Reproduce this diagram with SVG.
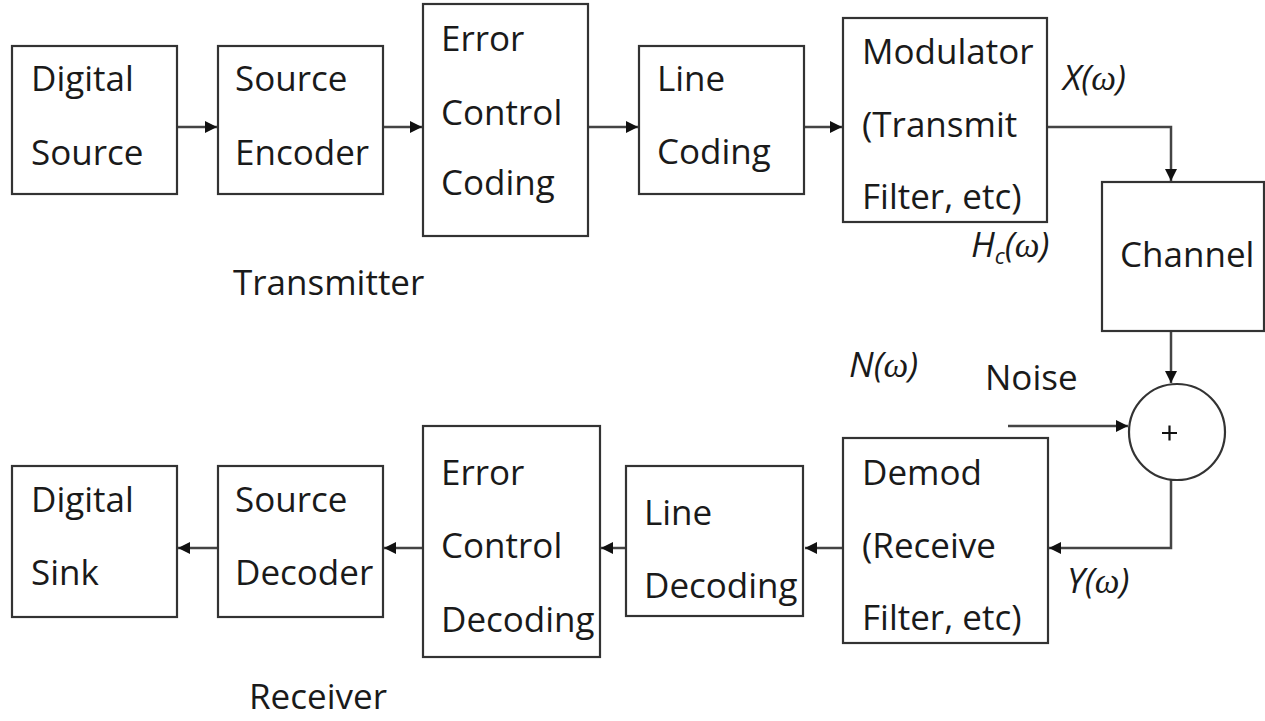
<svg xmlns="http://www.w3.org/2000/svg" width="1265" height="721" viewBox="0 0 1265 721">
<style>
.box{fill:#fff;stroke:#333;stroke-width:2.2}
.t{font-family:"Open Sans","Liberation Sans",sans-serif;font-size:35px;fill:#1a1a1a}
.it{font-family:"Open Sans","Liberation Sans",sans-serif;font-size:35px;font-style:italic;fill:#1a1a1a}
.w{font-family:"Liberation Serif",serif;font-style:italic}
.sub{font-size:22px}
.c{fill:none;stroke:#444;stroke-width:2.5}
</style>
<defs>
<marker id="ah" markerUnits="userSpaceOnUse" markerWidth="14" markerHeight="12" refX="12" refY="6" orient="auto">
<path d="M0,0 L12,6 L0,12 Z" fill="#111"/>
</marker>
</defs>
<rect width="1265" height="721" fill="#fff"/>
<g id="connectors">
<path class="c" d="M177,127 H217" marker-end="url(#ah)"/>
<path class="c" d="M383,127 H422" marker-end="url(#ah)"/>
<path class="c" d="M588,127 H638" marker-end="url(#ah)"/>
<path class="c" d="M804,127 H842" marker-end="url(#ah)"/>
<path class="c" d="M1047,127 H1171 V181" marker-end="url(#ah)"/>
<path class="c" d="M1171,331 V383" marker-end="url(#ah)"/>
<path class="c" d="M1008,426 H1128" marker-end="url(#ah)"/>
<path class="c" d="M1171,480 V548 H1049" marker-end="url(#ah)"/>
<path class="c" d="M843,548 H805" marker-end="url(#ah)"/>
<path class="c" d="M626,548 H601" marker-end="url(#ah)"/>
<path class="c" d="M423,548 H384" marker-end="url(#ah)"/>
<path class="c" d="M218,548 H178" marker-end="url(#ah)"/>
</g>
<g id="digital-source">
<rect class="box" x="12" y="46" width="165" height="148"/>
<text class="t" x="31" y="91">Digital</text>
<text class="t" x="31" y="165">Source</text>
</g>
<g id="source-encoder">
<rect class="box" x="218" y="46" width="165" height="148"/>
<text class="t" x="235" y="91">Source</text>
<text class="t" x="235" y="165">Encoder</text>
</g>
<g id="error-control-coding">
<rect class="box" x="423" y="4" width="165" height="232"/>
<text class="t" x="441" y="51">Error</text>
<text class="t" x="441" y="125">Control</text>
<text class="t" x="441" y="195">Coding</text>
</g>
<g id="line-coding">
<rect class="box" x="639" y="46" width="165" height="148"/>
<text class="t" x="657" y="91">Line</text>
<text class="t" x="657" y="164">Coding</text>
</g>
<g id="modulator">
<rect class="box" x="843" y="18" width="204" height="204"/>
<text class="t" x="862" y="64">Modulator</text>
<text class="t" x="862" y="137">(Transmit</text>
<text class="t" x="862" y="209">Filter, etc)</text>
</g>
<g id="label-x"><text class="it" x="1063" y="90">X(<tspan class="w">ω</tspan>)</text></g>
<g id="label-hc"><text class="it" x="971" y="257">H<tspan class="sub" dy="7">c</tspan><tspan dy="-7">(</tspan><tspan class="w">ω</tspan>)</text></g>
<g id="transmitter-label"><text class="t" x="233" y="295">Transmitter</text></g>
<g id="channel">
<rect class="box" x="1102" y="182" width="162" height="149"/>
<text class="t" x="1120" y="267">Channel</text>
</g>
<g id="label-n"><text class="it" x="849" y="377">N(<tspan class="w">ω</tspan>)</text></g>
<g id="noise-label"><text class="t" x="985" y="390">Noise</text></g>
<g id="adder">
<circle cx="1177" cy="432" r="48" fill="#fff" stroke="#333" stroke-width="2.2"/>
<path d="M1162,433 H1177 M1169.5,425.5 V440.5" stroke="#111" stroke-width="2.2"/>
</g>
<g id="demod">
<rect class="box" x="843" y="438" width="205" height="205"/>
<text class="t" x="862" y="485">Demod</text>
<text class="t" x="862" y="558">(Receive</text>
<text class="t" x="862" y="630">Filter, etc)</text>
</g>
<g id="label-y"><text class="it" x="1067" y="593">Y(<tspan class="w">ω</tspan>)</text></g>
<g id="line-decoding">
<rect class="box" x="626" y="466" width="177" height="150"/>
<text class="t" x="644" y="525">Line</text>
<text class="t" x="644" y="598">Decoding</text>
</g>
<g id="error-control-decoding">
<rect class="box" x="423" y="426" width="177" height="231"/>
<text class="t" x="441" y="485">Error</text>
<text class="t" x="441" y="558">Control</text>
<text class="t" x="441" y="632">Decoding</text>
</g>
<g id="source-decoder">
<rect class="box" x="218" y="466" width="165" height="151"/>
<text class="t" x="235" y="512">Source</text>
<text class="t" x="235" y="585">Decoder</text>
</g>
<g id="digital-sink">
<rect class="box" x="12" y="466" width="165" height="151"/>
<text class="t" x="31" y="512">Digital</text>
<text class="t" x="31" y="585">Sink</text>
</g>
<g id="receiver-label"><text class="t" x="249" y="709">Receiver</text></g>
</svg>
